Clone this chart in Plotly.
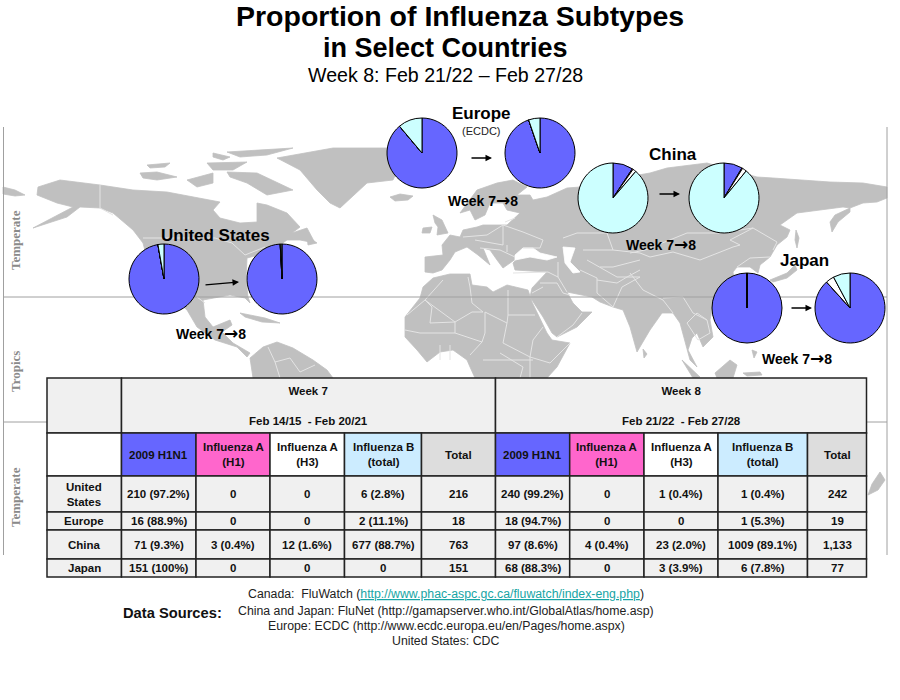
import plotly.graph_objects as go

# ---------- data ----------
SUBTYPES = ["2009 H1N1", "Influenza A (H1)", "Influenza A (H3)", "Influenza B (total)"]
SLICE_COLORS = ["#6666ff", "#ff66cc", "#ffffff", "#ccffff"]

US_W7 = [210, 0, 0, 6]
US_W8 = [240, 0, 1, 1]
EU_W7 = [16, 0, 0, 2]
EU_W8 = [18, 0, 0, 1]
CN_W7 = [71, 3, 12, 677]
CN_W8 = [97, 4, 23, 1009]
JP_W7 = [151, 0, 0, 0]
JP_W8 = [68, 0, 3, 6]

PIES = [
    (US_W7, 164, 279), (US_W8, 282, 279),
    (EU_W7, 422, 153), (EU_W8, 540, 153),
    (CN_W7, 613, 198), (CN_W8, 724, 198),
    (JP_W7, 747, 308), (JP_W8, 850, 308),
]
PIE_R = 35

COUNTRIES = ["United<br>States", "Europe", "China", "Japan"]
WEEK7_ROWS = [
    ["210 (97.2%)", "0", "0", "6 (2.8%)", "216"],
    ["16 (88.9%)", "0", "0", "2 (11.1%)", "18"],
    ["71 (9.3%)", "3 (0.4%)", "12 (1.6%)", "677 (88.7%)", "763"],
    ["151 (100%)", "0", "0", "0", "151"],
]
WEEK8_ROWS = [
    ["240 (99.2%)", "0", "1 (0.4%)", "1 (0.4%)", "242"],
    ["18 (94.7%)", "0", "0", "1 (5.3%)", "19"],
    ["97 (8.6%)", "4 (0.4%)", "23 (2.0%)", "1009 (89.1%)", "1,133"],
    ["68 (88.3%)", "0", "3 (3.9%)", "6 (7.8%)", "77"],
]
COL_HEADERS = ["2009 H1N1", "Influenza A<br>(H1)", "Influenza A<br>(H3)", "Influenza B<br>(total)", "Total"]
HEADER_FILLS = ["#6666ff", "#ff66cc", "#ffffff", "#ccecff", "#dddddd"]
COL_EDGES = [47, 121.5, 196, 270, 344.5, 421.5, 495.5, 569.7, 644, 718, 807.5, 866.5]
ROW_EDGES = [378, 433, 476, 512, 530, 559, 577]

# ---------- backdrop map outlines ----------
N_AMERICA = [(38,187),(60,180),(100,185),(133,190),(167,192),(207,200),(220,202),(213,210),(220,218),(240,223),
             (257,222),(257,203),(267,205),(287,213),(300,227),(292,233),(307,228),(315,243),(300,240),(287,240),
             (270,252),(247,258),(246,280),(248,297),(250,303),(245,298),(230,295),(203,300),(205,317),(213,327),
             (230,320),(232,325),(222,332),(233,343),(250,353),(247,357),(237,347),(215,340),(197,327),(187,310),
             (170,295),(150,270),(143,243),(133,230),(113,213),(100,208),(80,207),(67,217),(33,228),(73,207),
             (57,203),(37,195)]
S_AMERICA = [(250,358),(263,347),(277,342),(293,348),(313,360),(327,370),(333,378),(253,378)]
GREENLAND = [(277,158),(333,148),(387,148),(405,155),(393,180),(367,183),(340,208),(330,203),(317,190),(300,170)]
BAFFIN = [(227,172),(257,173),(293,190),(267,195),(247,183),(230,177)]
ELLESMERE = [(227,152),(293,148),(267,155),(240,157)]
DEVON = [(207,163),(247,162),(233,170),(213,170)]
VICTORIA = [(187,180),(213,173),(213,183),(197,187)]
BANKS = [(140,173),(157,172),(177,177),(157,180),(143,178)]
MELVILLE = [(147,165),(170,163),(165,167),(150,168)]
AXEL = [(213,153),(230,157),(223,160),(213,157)]
NEWFOUNDLAND = [(307,236),(317,243),(308,245)]
ICELAND = [(390,197),(400,194),(413,196),(408,200),(395,201)]
CHUKOTKA_W = [(3,187),(15,190),(25,195),(15,196),(3,194)]
CUBA = [(240,313),(265,318),(280,323),(262,322),(245,317)]
EURASIA = [(460,237),(463,230),(477,227),(483,225),(507,225),(515,217),(520,213),(507,210),(503,203),(490,203),
           (485,215),(475,220),(470,210),(460,213),(477,190),(497,183),(513,180),(527,187),(517,195),(530,195),
           (533,200),(547,197),(567,188),(580,187),(610,180),(650,173),(667,168),(707,163),(740,172),(757,177),
           (773,178),(797,180),(830,182),(863,183),(887,187),(887,198),(877,202),(863,203),(850,208),(843,207),
           (817,210),(797,213),(780,225),(790,230),(787,237),(777,245),(770,257),(760,265),(758,273),(750,267),
           (737,267),(733,272),(735,285),(720,300),(712,310),(710,320),(713,337),(703,347),(697,333),(692,338),
           (688,350),(697,367),(690,360),(685,340),(680,323),(673,313),(662,313),(650,330),(640,347),(637,352),
           (630,327),(623,310),(613,307),(600,302),(592,297),(573,293),(567,292),(573,303),(582,312),(592,312),
           (577,327),(557,337),(552,333),(543,317),(530,297),(532,288),(538,282),(547,272),(515,270),(513,263),
           (520,256),(503,268),(497,260),(490,250),(483,248),(490,265),(478,255),(467,247),(455,252),(450,260),
           (442,270),(433,273),(425,272),(425,257),(443,255),(442,245),(450,235)]
UK = [(433,215),(442,220),(448,233),(437,235),(438,227),(435,223)]
IRELAND = [(423,228),(432,227),(430,233),(422,233)]
AFRICA = [(405,317),(420,298),(423,287),(433,278),(450,274),(470,274),(472,285),(487,287),(493,292),(507,285),
          (528,290),(532,302),(547,333),(552,340),(570,343),(557,367),(547,378),(475,378),(470,367),(467,360),
          (453,350),(440,352),(427,362),(417,350),(405,337)]
SUMATRA = [(682,360),(700,377),(693,378)]
BORNEO = [(715,373),(730,360),(737,365),(733,378),(717,378)]
CELEBES = [(743,373),(760,372),(762,375),(747,376)]
SRI_LANKA = [(643,349),(647,354),(644,358)]
PHILIPPINES = [(752,350),(757,352),(754,358)]
KAMCHATKA = [(850,208),(835,215),(830,222),(832,232),(838,222),(850,212)]
SAKHALIN = [(796,230),(799,238),(797,248),(795,240)]
JAPAN_ISL = [(770,280),(787,273),(795,265),(797,270),(787,278),(773,282)]
NZ = [(872,484),(880,472),(885,480),(878,490),(868,495)]
LAND = [N_AMERICA, S_AMERICA, GREENLAND, BAFFIN, ELLESMERE, DEVON, VICTORIA, BANKS, MELVILLE, AXEL, NEWFOUNDLAND,
        ICELAND, CHUKOTKA_W, CUBA, EURASIA, UK, IRELAND, AFRICA, SUMATRA, BORNEO, CELEBES, SRI_LANKA, PHILIPPINES,
        KAMCHATKA, SAKHALIN, JAPAN_ISL, NZ]
BLACK_SEA = [(515,255),(523,248),(533,248),(540,253),(557,257),(547,260),(530,257),(515,260)]
CASPIAN = [(563,247),(575,248),(570,262),(580,272),(573,273),(565,263)]
SEAS = [BLACK_SEA, CASPIAN]
BORDERS = [
    [(100,185),(100,208),(113,215)], [(143,238),(215,238),(232,243),(245,255),(265,247)],
    [(197,297),(205,303)], [(268,347),(275,362),(290,358),(300,372),(315,365)], [(275,362),(280,378)],
    [(443,280),(425,300)], [(468,277),(470,287),(472,303),(483,312)],
    [(407,315),(425,300),(432,307),(430,323),(455,322)], [(425,300),(455,322),(472,312),(483,312)],
    [(508,290),(508,315),(535,315)], [(485,312),(507,323),(508,315)], [(485,312),(485,333),(482,342)],
    [(507,323),(503,343),(530,357)], [(543,327),(533,340),(530,357),(550,363),(570,343)],
    [(455,322),(455,333),(420,333),(405,330)], [(455,333),(482,342),(470,355)],
    [(440,345),(440,360)], [(450,345),(450,360)], [(483,360),(513,360),(533,360)], [(530,357),(530,378)],
    [(520,378),(523,367),(500,353)],
    [(463,237),(487,235),(503,225),(523,232),(543,240),(540,248),(523,248)], [(475,240),(503,245),(503,225)],
    [(480,248),(500,250),(515,257)], [(507,245),(507,252)], [(505,222),(515,218)],
    [(513,273),(548,272),(558,277)], [(558,277),(567,292)], [(558,262),(558,277)],
    [(580,270),(597,278),(597,293),(613,307)], [(540,283),(557,283),(563,293),(570,295)],
    [(557,337),(573,325),(582,313)], [(543,287),(532,293)],
    [(563,238),(577,233),(607,233),(613,250)],
    [(640,253),(650,257),(673,252),(700,260),(733,247),(740,245),(730,240),(753,228),(777,242),(773,250)],
    [(630,253),(645,250),(687,233),(720,233),(753,228)],
    [(583,250),(613,250),(640,253)], [(600,267),(613,267),(640,260)], [(587,260),(617,277),(640,277)],
    [(597,280),(617,283),(627,277),(640,270)], [(613,307),(622,287),(640,277)],
    [(630,273),(643,290),(663,300)], [(663,298),(683,297),(693,313),(707,320)],
    [(687,323),(697,313),(707,320),(710,333),(698,340),(687,323)], [(663,300),(673,313)],
    [(737,267),(750,258),(770,257)],
]
FRAME = [[(3.5,127),(3.5,555)], [(887,127),(887,555)], [(3,297),(887,297)], [(3,422),(47,422)], [(867,422),(887,422)]]

fig = go.Figure()


def lines(groups):
    xs, ys = [], []
    for g in groups:
        xs += [p[0] for p in g] + [None]
        ys += [p[1] for p in g] + [None]
    return xs, ys


def add_polygons(groups, color):
    for g in groups:
        fig.add_trace(go.Scatter(x=[p[0] for p in g] + [g[0][0]], y=[p[1] for p in g] + [g[0][1]],
                                 mode="lines", fill="toself", fillcolor=color,
                                 line=dict(color=color, width=0.8), hoverinfo="skip"))


add_polygons(LAND, "#c0c0c0")
add_polygons(SEAS, "#ffffff")
x, y = lines(BORDERS)
fig.add_trace(go.Scatter(x=x, y=y, mode="lines", line=dict(color="#e4e4e4", width=1), hoverinfo="skip"))
x, y = lines(FRAME)
fig.add_trace(go.Scatter(x=x, y=y, mode="lines", line=dict(color="#a0a0a0", width=1), hoverinfo="skip"))

for vals, cx, cy in PIES:
    fig.add_trace(go.Pie(
        values=vals, labels=SUBTYPES, sort=False, direction="clockwise", rotation=0,
        marker=dict(colors=SLICE_COLORS, line=dict(color="#000000", width=1)),
        textinfo="none", showlegend=False,
        domain=dict(x=[(cx - PIE_R) / 900, (cx + PIE_R) / 900],
                    y=[1 - (cy + PIE_R) / 700, 1 - (cy - PIE_R) / 700]),
    ))

shapes, annos = [], []
TABLE_FONT = "Liberation Sans"


def cell(x0, x1, y0, y1, fill, text=None, size=11.5, bold=True, color="#111111"):
    shapes.append(dict(type="rect", x0=x0, x1=x1, y0=y0, y1=y1, xref="x", yref="y", layer="above",
                       fillcolor=fill, line=dict(color="#222222", width=1.5)))
    if text:
        annos.append(dict(x=(x0 + x1) / 2, y=(y0 + y1) / 2, xref="x", yref="y", text=f"<b>{text}</b>" if bold else text,
                          showarrow=False, font=dict(family=TABLE_FONT, size=size, color=color), align="center"))


GREY = "#f0f0f0"
cell(COL_EDGES[0], COL_EDGES[1], ROW_EDGES[0], ROW_EDGES[1], GREY)
cell(COL_EDGES[1], COL_EDGES[6], ROW_EDGES[0], ROW_EDGES[1], GREY, "Week 7<br> <br>Feb 14/15  - Feb 20/21")
cell(COL_EDGES[6], COL_EDGES[11], ROW_EDGES[0], ROW_EDGES[1], GREY, "Week 8<br> <br>Feb 21/22  - Feb 27/28")
cell(COL_EDGES[0], COL_EDGES[1], ROW_EDGES[1], ROW_EDGES[2], "#ffffff")
for i in range(10):
    c = i % 5
    cell(COL_EDGES[i + 1], COL_EDGES[i + 2], ROW_EDGES[1], ROW_EDGES[2], HEADER_FILLS[c], COL_HEADERS[c])
for r, name in enumerate(COUNTRIES):
    y0, y1 = ROW_EDGES[r + 2], ROW_EDGES[r + 3]
    cell(COL_EDGES[0], COL_EDGES[1], y0, y1, GREY, name)
    for i, t in enumerate(WEEK7_ROWS[r] + WEEK8_ROWS[r]):
        cell(COL_EDGES[i + 1], COL_EDGES[i + 2], y0, y1, GREY, t)


def label(x, y, text, size, bold=False, color="#000000", family="Liberation Sans", angle=0):
    annos.append(dict(x=x, y=y, xref="x", yref="y", showarrow=False, textangle=angle,
                      text=f"<b>{text}</b>" if bold else text, font=dict(family=family, size=size, color=color)))


label(459.5, 16, "Proportion of Influenza Subtypes", 28.5, True)
label(445.5, 48, "in Select Countries", 27, True)
label(445.5, 75, "Week 8: Feb 21/22 – Feb 27/28", 19.6)
label(215, 235, "United States", 17, True)
label(481, 113, "Europe", 17, True)
label(481, 131, "(ECDC)", 11, color="#222222")
label(673, 154, "China", 17, True)
label(804, 260, "Japan", 17, True)
WEEK_LABEL = 'Week 7<span style="font-family:DejaVu Sans;font-size:17px">→</span>8'
for wx, wy in [(211, 333), (483, 200), (661, 244), (797, 358)]:
    label(wx, wy, WEEK_LABEL, 14, True)
label(15, 240, "Temperate", 13, True, "#8a8a8a", "Liberation Serif", -90)
label(15, 372, "Tropics", 13, True, "#8a8a8a", "Liberation Serif", -90)
label(15, 497, "Temperate", 13, True, "#8a8a8a", "Liberation Serif", -90)
label(172.5, 613, "Data Sources:", 14.7, True, "#111111")
label(446, 594, 'Canada:  FluWatch (<span style="color:#17a5a5"><u>http://www.phac-aspc.gc.ca/fluwatch/index-eng.php</u></span>)', 12.3, color="#222222")
label(446, 611, "China and Japan: FluNet (http://gamapserver.who.int/GlobalAtlas/home.asp)", 12.3, color="#222222")
label(446, 626, "Europe: ECDC (http://www.ecdc.europa.eu/en/Pages/home.aspx)", 12.3, color="#222222")
label(445, 641, "United States: CDC", 12.3, color="#222222")

for x0, y0, x1, y1 in [(204, 285, 239, 282), (470, 158, 492, 158), (658, 194, 680, 194), (790, 308, 812, 308)]:
    annos.append(dict(x=x1, y=y1, ax=x0, ay=y0, xref="x", yref="y", axref="x", ayref="y", text="",
                      showarrow=True, arrowhead=2, arrowsize=1, arrowwidth=1.3, arrowcolor="#000000"))

fig.update_layout(
    width=900, height=700, margin=dict(l=0, r=0, t=0, b=0), showlegend=False,
    paper_bgcolor="#ffffff", plot_bgcolor="#ffffff",
    xaxis=dict(range=[0, 900], visible=False, fixedrange=True, domain=[0, 1]),
    yaxis=dict(range=[700, 0], visible=False, fixedrange=True, domain=[0, 1]),
    shapes=shapes, annotations=annos,
)
fig.write_html("out.html", config={"displayModeBar": False}, post_script="document.body.style.margin='0';")
